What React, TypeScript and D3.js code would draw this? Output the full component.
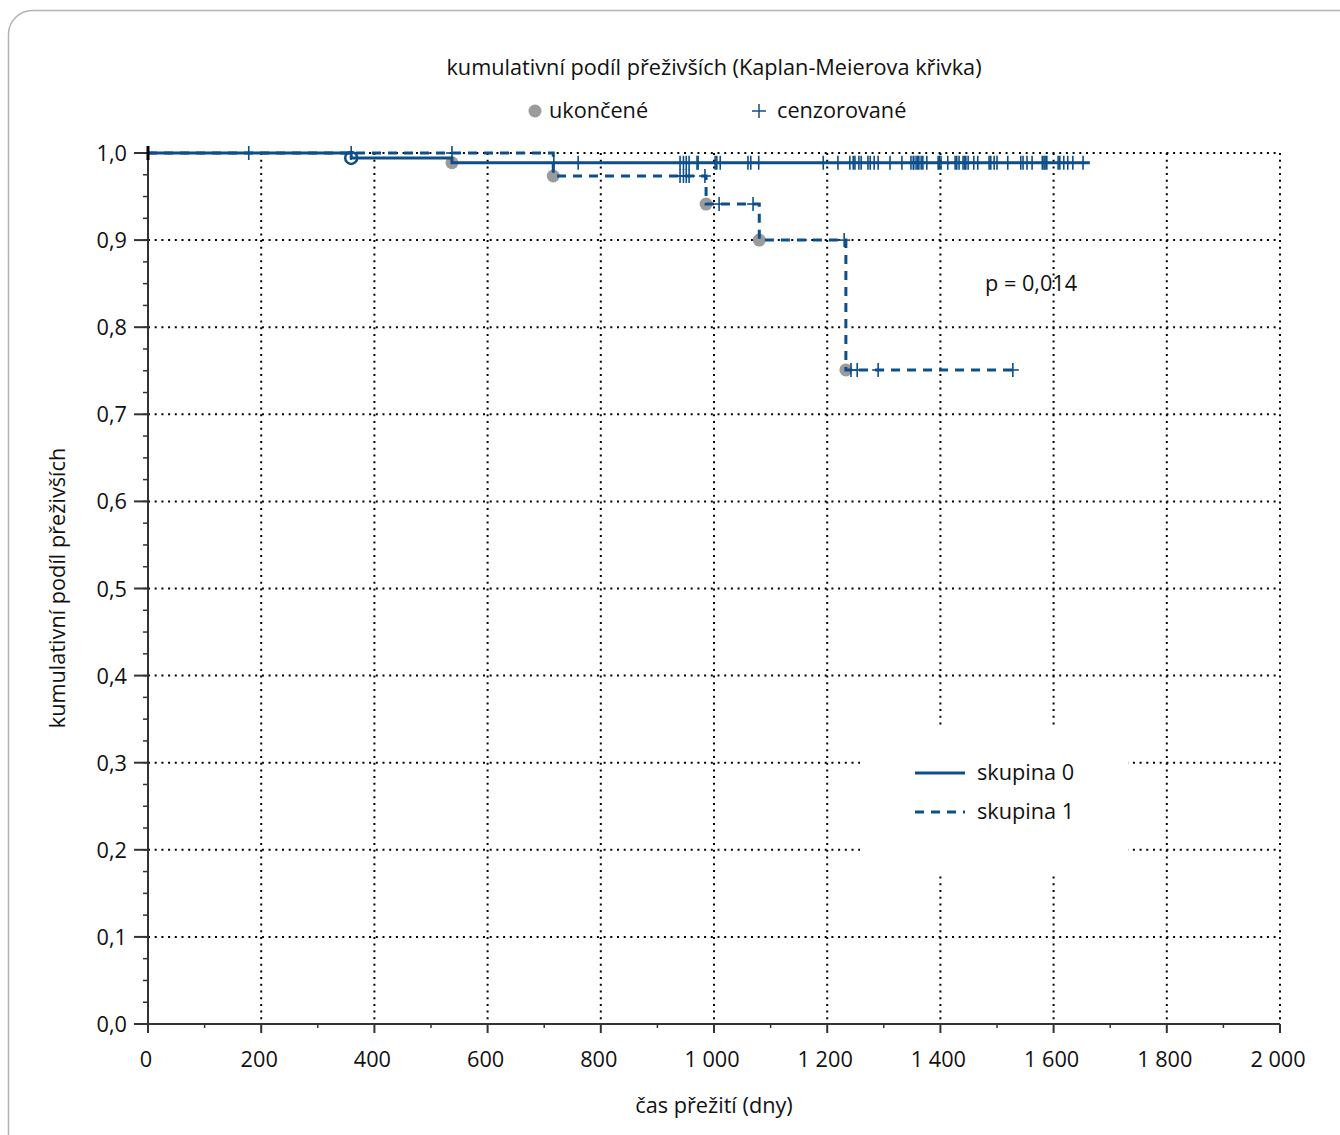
import React from "react";
import * as d3 from "d3";

// ---------- data ----------
const titleText = "kumulativní podíl přeživších (Kaplan-Meierova křivka)";
const legendEventLabel = "ukončené";
const legendCensorLabel = "cenzorované";
const xAxisTitle = "čas přežití (dny)";
const yAxisTitle = "kumulativní podíl přeživších";
const groupLabels = ["skupina 0", "skupina 1"];
const pValueText = "p = 0,014";

const xTickValues = [0, 200, 400, 600, 800, 1000, 1200, 1400, 1600, 1800, 2000];
const yTickValues = [0, 0.1, 0.2, 0.3, 0.4, 0.5, 0.6, 0.7, 0.8, 0.9, 1.0];

// group 0 (solid)
const g0EventTimes = [359, 537];
const g0Survival = [0.9943, 0.9888];
const g0RingEvents = [359];
const g0CensorTimes = [
  178, 717, 760, 940, 946, 951, 956, 970, 972, 1002, 1005, 1011, 1060, 1065, 1079,
  1193, 1219, 1240, 1246, 1249, 1256, 1260, 1272, 1276, 1283, 1290, 1311, 1332,
  1348, 1352, 1353, 1357, 1360, 1362, 1366, 1369, 1376, 1396, 1398, 1401, 1413,
  1426, 1429, 1433, 1440, 1443, 1445, 1449, 1459, 1466, 1486, 1489, 1495, 1500,
  1519, 1542, 1546, 1553, 1562, 1580, 1583, 1585, 1588, 1608, 1611, 1618, 1625,
  1634, 1652,
];
const g0EndTime = 1664;

// group 1 (dashed)
const g1EventTimes = [716, 986, 1080, 1233];
const g1Survival = [0.9736, 0.9414, 0.9, 0.7509];
const g1CensorTimes = [359, 537, 940, 946, 951, 956, 984, 1009, 1069, 1230, 1242, 1253, 1290, 1528];
const g1EndTime = 1532;

// ---------- styling ----------
const W = 1340;
const H = 1135;
const BLUE = "#0e4e8a";
const GRAY = "#9b9b9b";
const FONT = "'Open Sans', 'Noto Sans', sans-serif";
const FS = 21.7;

const x = d3.scaleLinear().domain([0, 2000]).range([148, 1280]);
const y = d3.scaleLinear().domain([0, 1]).range([1024, 153]);

function survivalAt(times: number[], surv: number[], t: number) {
  let s = 1;
  for (let i = 0; i < times.length; i++) if (times[i] <= t) s = surv[i];
  return s;
}

function stepPath(times: number[], surv: number[], end: number) {
  const pts: [number, number][] = [[0, 1]];
  times.forEach((t, i) => pts.push([t, surv[i]]));
  pts.push([end, surv[surv.length - 1]]);
  return d3
    .line<[number, number]>()
    .x((d) => x(d[0]))
    .y((d) => y(d[1]))
    .curve(d3.curveStepAfter)(pts) as string;
}

function fmtX(v: number) {
  if (v >= 1000) return `${Math.floor(v / 1000)} ${String(v % 1000).padStart(3, "0")}`;
  return String(v);
}
function fmtY(v: number) {
  return v.toFixed(1).replace(".", ",");
}

function Plus({ cx, cy, h = 7, w = 6, sw = 1.6 }: any) {
  return (
    <g stroke={BLUE} strokeWidth={sw}>
      <line x1={cx} x2={cx} y1={cy - h} y2={cy + h} />
      <line x1={cx - w} x2={cx + w} y1={cy} y2={cy} />
    </g>
  );
}

export default function App() {
  const yMinor = d3.range(0, 1.0001, 0.025);
  const xMinor = d3.range(100, 2000, 200);
  const dot = { stroke: "#000", strokeWidth: 2, strokeDasharray: "2 4.7" };

  return (
    <svg
      width={W}
      height={H}
      viewBox={`0 0 ${W} ${H}`}
      style={{ position: "absolute", left: 0, top: 0, background: "#fff" }}
      fontFamily={FONT}
    >
      <rect x={8.5} y={10.5} width={1420} height={1220} rx={24} fill="#fff" stroke="#b3b3b3" strokeWidth={1.5} />

      {/* title */}
      <text x={714} y={75} textAnchor="middle" fontSize={FS} fill="#111">
        {titleText}
      </text>
      {/* marker legend */}
      <circle cx={535} cy={111} r={6.5} fill={GRAY} />
      <text x={549} y={118} fontSize={FS} fill="#111">
        {legendEventLabel}
      </text>
      <Plus cx={759} cy={111} h={7} w={7} sw={1.5} />
      <text x={777} y={118} fontSize={FS} fill="#111">
        {legendCensorLabel}
      </text>

      {/* grid */}
      <g>
        {xTickValues.filter((v) => v > 0).map((v) => (
          <line key={"gx" + v} x1={x(v)} x2={x(v)} y1={y(1)} y2={y(0)} {...dot} />
        ))}
        {yTickValues.filter((v) => v > 0).map((v) => (
          <line key={"gy" + v} x1={x(0)} x2={x(2000)} y1={y(v)} y2={y(v)} {...dot} />
        ))}
      </g>

      {/* legend box (blanks grid) */}
      <rect x={860} y={728} width={268} height={144} fill="#fff" />
      <line x1={915} x2={965} y1={773} y2={773} stroke={BLUE} strokeWidth={3} />
      <text x={977} y={780} fontSize={FS} fill="#111">
        {groupLabels[0]}
      </text>
      <line x1={915} x2={965} y1={812} y2={812} stroke={BLUE} strokeWidth={3} strokeDasharray="9 7" />
      <text x={977} y={819} fontSize={FS} fill="#111">
        {groupLabels[1]}
      </text>

      <text x={985} y={291} fontSize={FS} fill="#111">
        {pValueText}
      </text>

      {/* event circles (under lines) */}
      {g0EventTimes.filter((t) => !g0RingEvents.includes(t)).map((t) => (
        <circle key={"e0" + t} cx={x(t)} cy={y(survivalAt(g0EventTimes, g0Survival, t))} r={6.5} fill={GRAY} />
      ))}
      {g1EventTimes.map((t) => (
        <circle key={"e1" + t} cx={x(t)} cy={y(survivalAt(g1EventTimes, g1Survival, t))} r={6.5} fill={GRAY} />
      ))}

      {/* curves */}
      <path d={stepPath(g1EventTimes, g1Survival, g1EndTime)} fill="none" stroke={BLUE} strokeWidth={3} strokeDasharray="9 7" />
      <path d={stepPath(g0EventTimes, g0Survival, g0EndTime)} fill="none" stroke={BLUE} strokeWidth={3} />

      {/* censor marks */}
      {g0CensorTimes.map((t, i) => (
        <Plus key={"c0" + i} cx={x(t)} cy={y(survivalAt(g0EventTimes, g0Survival, t))} />
      ))}
      {g1CensorTimes.map((t, i) => (
        <Plus key={"c1" + i} cx={x(t)} cy={y(survivalAt(g1EventTimes, g1Survival, t))} />
      ))}
      {g0RingEvents.map((t) => (
        <circle key={"r" + t} cx={x(t)} cy={y(survivalAt(g0EventTimes, g0Survival, t))} r={6} fill="none" stroke={BLUE} strokeWidth={2.5} />
      ))}

      {/* axes */}
      <g stroke="#333" strokeWidth={2}>
        <line x1={x(0)} x2={x(0)} y1={y(1)} y2={y(0)} />
        <line x1={x(0)} x2={x(2000)} y1={y(0)} y2={y(0)} />
        {yMinor.map((v, i) => (
          <line key={"ym" + i} x1={x(0) - 5} x2={x(0)} y1={y(v)} y2={y(v)} strokeWidth={1.5} />
        ))}
        {yTickValues.map((v) => (
          <line key={"yt" + v} x1={x(0) - 14} x2={x(0)} y1={y(v)} y2={y(v)} />
        ))}
        {xMinor.map((v) => (
          <line key={"xm" + v} x1={x(v)} x2={x(v)} y1={y(0)} y2={y(0) + 4} strokeWidth={1.5} />
        ))}
        {xTickValues.map((v) => (
          <line key={"xt" + v} x1={x(v)} x2={x(v)} y1={y(0)} y2={y(0) + 9} />
        ))}
      </g>
      <line x1={x(0)} x2={x(0)} y1={y(1) - 7} y2={y(1) + 7} stroke="#000" strokeWidth={3} />

      {yTickValues.map((v) => (
        <text key={"yl" + v} x={127} y={y(v) + 8} textAnchor="end" fontSize={FS} fill="#111">
          {fmtY(v)}
        </text>
      ))}
      {xTickValues.map((v) => (
        <text key={"xl" + v} x={x(v) - 2} y={1067} textAnchor="middle" fontSize={FS} fill="#111">
          {fmtX(v)}
        </text>
      ))}

      <text x={714} y={1113} textAnchor="middle" fontSize={FS} fill="#111">
        {xAxisTitle}
      </text>
      <text transform={`translate(65, 588) rotate(-90)`} textAnchor="middle" fontSize={FS} fill="#111">
        {yAxisTitle}
      </text>
    </svg>
  );
}
